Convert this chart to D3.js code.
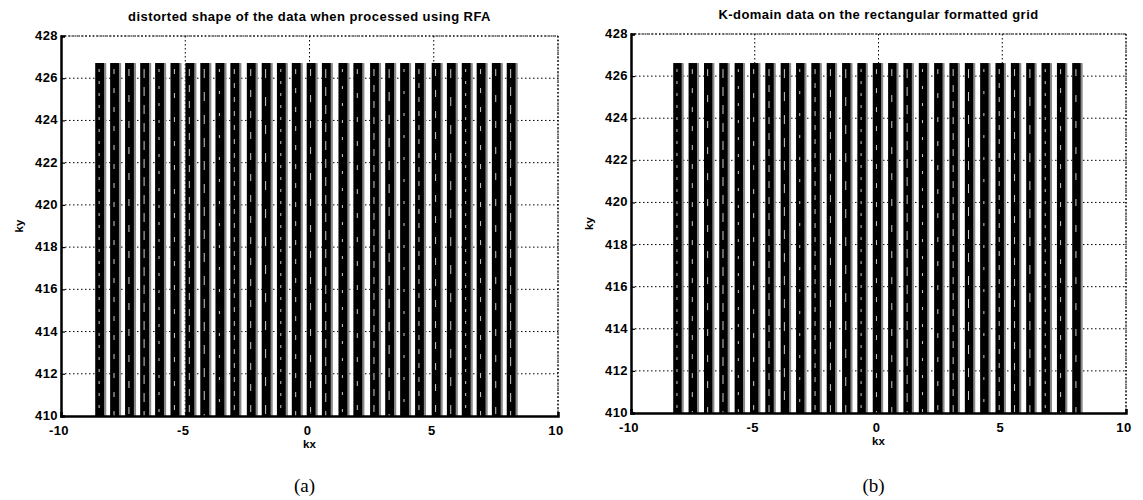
<!DOCTYPE html>
<html>
<head>
<meta charset="utf-8">
<script src="https://cdn.jsdelivr.net/npm/d3@7"></script>
<style>
  body { margin: 0; background: #fff; }
  svg { display: block; }
  .tick-label { font-family: "Liberation Sans", Arial, sans-serif; font-weight: bold; font-size: 13px; letter-spacing: 0.4px; fill: #000; }
  .axis-label { font-family: "Liberation Sans", Arial, sans-serif; font-weight: bold; font-size: 11.5px; fill: #000; }
  .title { font-family: "Liberation Sans", Arial, sans-serif; font-weight: bold; font-size: 13px; letter-spacing: 0.45px; fill: #000; }
  .caption { font-family: "Liberation Serif", "DejaVu Serif", serif; font-size: 19px; fill: #000; }
</style>
</head>
<body>
<svg id="chart" width="1143" height="500"></svg>
<script>
// axis ticks shared by both panels
const kxTicks = [-10, -5, 0, 5, 10];
const kyTicks = [410, 412, 414, 416, 418, 420, 422, 424, 426, 428];

// (a) bar centres in kx, distorted spacing
const kxA = [-8.40, -7.80, -7.20, -6.59, -5.99, -5.37, -4.77, -4.17, -3.56, -2.96,
  -2.30, -1.70, -1.09, -0.49, 0.11, 0.72, 1.39, 1.99, 2.66, 3.27,
  3.87, 4.47, 5.14, 5.75, 6.35, 6.95, 7.56, 8.16];
const kyTopA = 426.72;

// (b) bar centres in kx, regular grid
const kxB = [-8.08, -7.46, -6.84, -6.22, -5.60, -4.98, -4.36, -3.74, -3.12, -2.50,
  -1.88, -1.26, -0.64, -0.02, 0.60, 1.22, 1.84, 2.46, 3.08, 3.70,
  4.32, 4.94, 5.56, 6.18, 6.80, 7.42, 8.04];
const kyTopB = 426.62;

const kyBottom = 410;

const svg = d3.select("#chart");

function drawPanel(opts) {
	const {x0, x1, y0, y1, centers, top, title, caption, barWidth} = opts;

	const x = d3.scaleLinear().domain([-10, 10]).range([x0, x1]);
	const y = d3.scaleLinear().domain([410, 428]).range([y1, y0]);
	const g = svg.append("g");

	// dotted grid
	g.append("g")
		.selectAll("line")
		.data(kyTicks.slice(1))
		.join("line")
		.attr("x1", x0).attr("x2", x1)
		.attr("y1", d => y(d)).attr("y2", d => y(d))
		.attr("stroke", "#000")
		.attr("stroke-width", 1)
		.attr("stroke-dasharray", "1.5,2.5");

	g.append("g")
		.selectAll("line")
		.data(kxTicks.slice(1))
		.join("line")
		.attr("x1", d => x(d)).attr("x2", d => x(d))
		.attr("y1", y0).attr("y2", y1)
		.attr("stroke", "#000")
		.attr("stroke-width", 1)
		.attr("stroke-dasharray", "1.5,2.5");

	// bars: grey fringe, black core, a few light streaks
	const w = x(barWidth) - x(0);
	const bars = g.append("g")
		.selectAll("g")
		.data(centers)
		.join("g");

	bars.append("rect")
		.attr("x", d => x(d) - w / 2)
		.attr("y", y(top))
		.attr("width", w)
		.attr("height", y(kyBottom) - y(top))
		.attr("fill", "#8a8a8a");

	bars.append("rect")
		.attr("x", d => x(d) - w / 2)
		.attr("y", y(top))
		.attr("width", w * 0.8)
		.attr("height", y(kyBottom) - y(top))
		.attr("fill", "#000");

	bars.append("line")
		.attr("x1", d => x(d) - w * 0.15).attr("x2", d => x(d) - w * 0.15)
		.attr("y1", y(top) + 6).attr("y2", y(kyBottom))
		.attr("stroke", "#fff")
		.attr("stroke-width", 0.8)
		.attr("stroke-dasharray", (d, i) => `${3 + (i % 4) * 2},${9 + (i % 3) * 5}`);

	// frame: solid left/bottom, dotted top/right
	g.append("line").attr("x1", x0).attr("x2", x1).attr("y1", y0).attr("y2", y0)
		.attr("stroke", "#000").attr("stroke-width", 1.2).attr("stroke-dasharray", "1.5,2");
	g.append("line").attr("x1", x1).attr("x2", x1).attr("y1", y0).attr("y2", y1)
		.attr("stroke", "#000").attr("stroke-width", 1.2).attr("stroke-dasharray", "1.5,2");

	g.append("g")
		.attr("transform", `translate(0,${y1})`)
		.call(d3.axisBottom(x).tickValues(kxTicks).tickSize(-4).tickFormat(""))
		.call(a => a.select(".domain").attr("stroke-width", 2.5))
		.call(a => a.selectAll(".tick line").attr("stroke-width", 1.2));

	g.append("g")
		.attr("transform", `translate(${x0},0)`)
		.call(d3.axisLeft(y).tickValues(kyTicks).tickSize(-4).tickFormat(""))
		.call(a => a.select(".domain").attr("stroke-width", 2.5))
		.call(a => a.selectAll(".tick line").attr("stroke-width", 1.2));

	// tick labels
	g.append("g")
		.selectAll("text")
		.data(kyTicks)
		.join("text")
		.attr("class", "tick-label")
		.attr("x", x0 - 3)
		.attr("y", d => y(d) + 4)
		.attr("text-anchor", "end")
		.text(d => d);

	g.append("g")
		.selectAll("text")
		.data(kxTicks)
		.join("text")
		.attr("class", "tick-label")
		.attr("x", d => x(d) - 2)
		.attr("y", y1 + 19)
		.attr("text-anchor", "middle")
		.text(d => d);

	g.append("text")
		.attr("class", "title")
		.attr("x", (x0 + x1) / 2)
		.attr("y", y0 - 15)
		.attr("text-anchor", "middle")
		.text(title);

	g.append("text")
		.attr("class", "axis-label")
		.attr("x", (x0 + x1) / 2)
		.attr("y", y1 + 32)
		.attr("text-anchor", "middle")
		.text("kx");

	g.append("text")
		.attr("class", "axis-label")
		.attr("transform", `translate(${x0 - 38},${(y0 + y1) / 2}) rotate(-90)`)
		.attr("text-anchor", "middle")
		.text("ky");

	g.append("text")
		.attr("class", "caption")
		.attr("x", (x0 + x1) / 2 - 5)
		.attr("y", 492)
		.attr("text-anchor", "middle")
		.text(caption);
}

drawPanel({
	x0: 61, x1: 558, y0: 36, y1: 416,
	centers: kxA, top: kyTopA, barWidth: 0.44,
	title: "distorted shape of the data when processed using RFA",
	caption: "(a)"
});

drawPanel({
	x0: 631, x1: 1126, y0: 34, y1: 413,
	centers: kxB, top: kyTopB, barWidth: 0.42,
	title: "K-domain data on the rectangular formatted grid",
	caption: "(b)"
});
</script>
</body>
</html>
